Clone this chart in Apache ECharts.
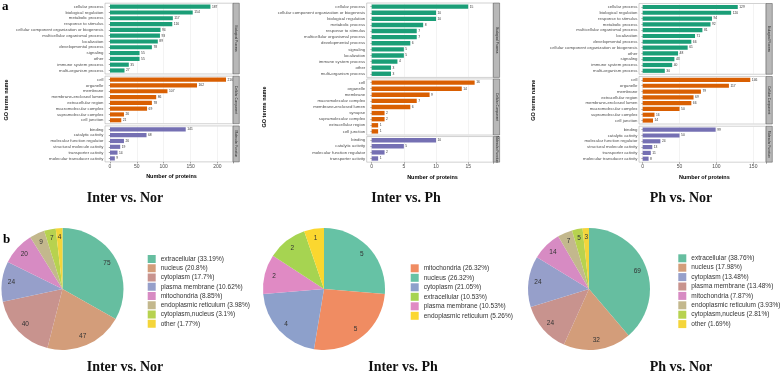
<!DOCTYPE html>
<html>
<head>
<meta charset="utf-8">
<script src="https://cdn.jsdelivr.net/npm/echarts@6/dist/echarts.min.js"></script>
<style>
html, body { margin: 0; padding: 0; background: #fff; }
#chart { width: 783px; height: 373px; }
</style>
</head>
<body>
<div id="chart"></div>
<script>
// --- GO term counts: Inter vs. Nor
var bpNames1 = ['cellular process', 'biological regulation', 'metabolic process', 'response to stimulus', 'cellular component organization or biogenesis', 'multicellular organismal process', 'localization', 'developmental process', 'signaling', 'other', 'immune system process', 'multi-organism process'];
var bpValues1 = [187, 154, 117, 116, 94, 93, 89, 78, 55, 55, 35, 27];
var ccNames1 = ['cell', 'organelle', 'membrane', 'membrane-enclosed lumen', 'extracellular region', 'macromolecular complex', 'supramolecular complex', 'cell junction'];
var ccValues1 = [216, 162, 107, 86, 78, 69, 26, 21];
var mfNames1 = ['binding', 'catalytic activity', 'molecular function regulator', 'structural molecule activity', 'transporter activity', 'molecular transducer activity'];
var mfValues1 = [141, 68, 26, 19, 14, 9];

// --- Inter vs. Ph
var bpNames2 = ['cellular process', 'cellular component organization or biogenesis', 'biological regulation', 'metabolic process', 'response to stimulus', 'multicellular organismal process', 'developmental process', 'signaling', 'localization', 'immune system process', 'other', 'multi-organism process'];
var bpValues2 = [15, 10, 10, 8, 7, 7, 6, 5, 5, 4, 3, 3];
var ccNames2 = ['cell', 'organelle', 'membrane', 'macromolecular complex', 'membrane-enclosed lumen', 'synapse', 'supramolecular complex', 'extracellular region', 'cell junction'];
var ccValues2 = [16, 14, 9, 7, 6, 2, 2, 1, 1];
var mfNames2 = ['binding', 'catalytic activity', 'molecular function regulator', 'transporter activity'];
var mfValues2 = [10, 5, 2, 1];

// --- Ph vs. Nor
var bpNames3 = ['cellular process', 'biological regulation', 'response to stimulus', 'metabolic process', 'multicellular organismal process', 'localization', 'developmental process', 'cellular component organization or biogenesis', 'other', 'signaling', 'immune system process', 'multi-organism process'];
var bpValues3 = [129, 120, 94, 92, 81, 71, 66, 61, 48, 43, 40, 30];
var ccNames3 = ['cell', 'organelle', 'membrane', 'extracellular region', 'membrane-enclosed lumen', 'macromolecular complex', 'supramolecular complex', 'cell junction'];
var ccValues3 = [146, 117, 79, 69, 66, 50, 16, 14];
var mfNames3 = ['binding', 'catalytic activity', 'molecular function regulator', 'structural molecule activity', 'transporter activity', 'molecular transducer activity'];
var mfValues3 = [99, 50, 24, 13, 11, 8];

// --- subcellular location pies (slice order clockwise from 12 o'clock)
var pieNames1 = ['extracellular', 'nucleus', 'cytoplasm', 'plasma membrane', 'mitochondria', 'endoplasmic reticulum', 'cytoplasm,nucleus', 'other'];
var pieValues1 = [75, 47, 40, 24, 20, 9, 7, 4];
var legendOrder1 = ['extracellular', 'nucleus', 'cytoplasm', 'plasma membrane', 'mitochondria', 'endoplasmic reticulum', 'cytoplasm,nucleus', 'other'];

var pieNames2 = ['nucleus', 'mitochondria', 'cytoplasm', 'plasma membrane', 'extracellular', 'endoplasmic reticulum'];
var pieValues2 = [5, 5, 4, 2, 2, 1];
var legendOrder2 = ['mitochondria', 'nucleus', 'cytoplasm', 'extracellular', 'plasma membrane', 'endoplasmic reticulum'];

var pieNames3 = ['extracellular', 'nucleus', 'plasma membrane', 'cytoplasm', 'mitochondria', 'endoplasmic reticulum', 'cytoplasm,nucleus', 'other'];
var pieValues3 = [69, 32, 24, 24, 14, 7, 5, 3];
var legendOrder3 = ['extracellular', 'nucleus', 'cytoplasm', 'plasma membrane', 'mitochondria', 'endoplasmic reticulum', 'cytoplasm,nucleus', 'other'];

var titles = ['Inter vs. Nor', 'Inter vs. Ph', 'Ph vs. Nor'];
var stripNames = ['Biological Process', 'Cellular Component', 'Molecular Function'];

// ---------------------------------------------------------------
var facetColors = ['#1b9e77', '#d95f02', '#7570b3'];
var paletteA = ['#66bea0', '#d39d7a', '#c8938e', '#969fca', '#d78bc3', '#c3b88d', '#b7d24f', '#f4d53a'];
var paletteB = ['#66c2a5', '#f08c62', '#8da0cb', '#e08ac4', '#a6d451', '#fbd72f'];
var SANS = 'Liberation Sans, Arial, sans-serif';
var SERIF = 'Liberation Serif, Times New Roman, serif';

var panels = [
  { data: [[bpNames1, bpValues1], [ccNames1, ccValues1], [mfNames1, mfValues1]],
    frameL: 105, x0: 110, xR: 233, max: 229, interval: 50, top: 3.2, u: 5.8, gap: 2.2, nameGap: 96, cx: 125 },
  { data: [[bpNames2, bpValues2], [ccNames2, ccValues2], [mfNames2, mfValues2]],
    frameL: 366.7, x0: 371.7, xR: 493.3, max: 18.9, interval: 5, top: 3.0, u: 6.1, gap: 1.5, nameGap: 99, cx: 406 },
  { data: [[bpNames3, bpValues3], [ccNames3, ccValues3], [mfNames3, mfValues3]],
    frameL: 639, x0: 642.7, xR: 766, max: 167.3, interval: 50, top: 3.5, u: 5.8, gap: 2.2, nameGap: 103, cx: 681 }
];

var grids = [], xAxes = [], yAxes = [], series = [], graphics = [], legends = [];

panels.forEach(function (p, pi) {
  var y = p.top;
  p.data.forEach(function (f, fi) {
    var names = f[0], vals = f[1];
    var h = (names.length + 0.2) * p.u;
    var idx = grids.length;
    var last = fi === 2;
    grids.push({ left: p.x0, width: p.xR - p.x0, top: y + 0.1 * p.u, height: names.length * p.u });
    xAxes.push({
      gridIndex: idx, type: 'value', min: 0, max: p.max, interval: p.interval,
      offset: last ? 0.1 * p.u : 0,
      axisLine: { show: false },
      axisTick: { show: last, length: 1.5, lineStyle: { color: '#333', width: 0.5 } },
      axisLabel: { show: last, fontSize: 5, color: '#4d4d4d', margin: 2,
        formatter: function (v) { return v % p.interval === 0 ? v : ''; } },
      splitLine: { show: true, lineStyle: { color: '#ebebeb', width: 0.6 } },
      name: last ? 'Number of proteins' : '', nameLocation: 'middle', nameGap: 12,
      nameTextStyle: { fontSize: 5.5, fontWeight: 'bold', color: '#000', fontFamily: SANS }
    });
    yAxes.push({
      gridIndex: idx, type: 'category', data: names, inverse: true,
      offset: p.x0 - p.frameL,
      axisLine: { show: false },
      axisTick: { show: true, length: 1.2, interval: 0, alignWithLabel: true, lineStyle: { color: '#333', width: 0.5 } },
      axisLabel: { fontSize: 4.3, color: '#4d4d4d', margin: 1.5, interval: 0, hideOverlap: false },
      splitLine: { show: false },
      name: fi === 1 ? 'GO terms name' : '', nameLocation: 'middle', nameGap: p.nameGap,
      nameTextStyle: { fontSize: 5.5, fontWeight: 'bold', color: '#000', fontFamily: SANS }
    });
    series.push({
      type: 'bar', xAxisIndex: idx, yAxisIndex: idx, data: vals, barWidth: '72%',
      itemStyle: { color: facetColors[fi] },
      label: { show: true, position: 'right', distance: 1.5, fontSize: 3.3, color: '#333' },
      silent: true
    });
    graphics.push({ type: 'rect', z: 10, shape: { x: p.frameL, y: y, width: p.xR - p.frameL, height: h },
      style: { fill: 'none', stroke: '#b3b3b3', lineWidth: 0.6 } });
    graphics.push({ type: 'rect', z: 10, shape: { x: p.xR, y: y, width: 6.3, height: h },
      style: { fill: '#b8b8b8', stroke: '#4d4d4d', lineWidth: 0.5 } });
    graphics.push({ type: 'text', z: 11, x: p.xR + 3.15, y: y + h / 2, rotation: -Math.PI / 2,
      style: { text: stripNames[fi], fontSize: 3.2, fill: '#1a1a1a', align: 'center', verticalAlign: 'middle', fontFamily: SANS } });
    y += h + p.gap;
  });
  graphics.push({ type: 'text', x: p.cx, y: 198, style: { text: titles[pi], fontSize: 14, fontWeight: 'bold',
    fill: '#111', align: 'center', verticalAlign: 'middle', fontFamily: SERIF } });
});

var pies = [
  { names: pieNames1, values: pieValues1, order: legendOrder1, colors: paletteA, cx: 62.5, lx: 147.7, ly: 255, gap: 1.25, tx: 125 },
  { names: pieNames2, values: pieValues2, order: legendOrder2, colors: paletteB, cx: 324, lx: 410.7, ly: 264.3, gap: 1.5, tx: 403 },
  { names: pieNames3, values: pieValues3, order: legendOrder3, colors: paletteA, cx: 589, lx: 678.3, ly: 254.3, gap: 1.4, tx: 681 }
];

pies.forEach(function (pp, i) {
  var total = pp.values.reduce(function (a, b) { return a + b; }, 0);
  var label = function (n) {
    var v = pp.values[pp.names.indexOf(n)];
    return n + ' (' + (+(v / total * 100).toFixed(2)) + '%)';
  };
  var data = pp.names.map(function (n, k) { return { name: label(n), value: pp.values[k] }; });
  series.push({
    type: 'pie', center: [pp.cx, 289], radius: 61, startAngle: 90, clockwise: true,
    color: pp.colors, data: data, silent: true,
    label: { show: false }, labelLine: { show: false }, itemStyle: { borderWidth: 0 }
  });
  series.push({
    type: 'pie', center: [pp.cx, 289], radius: [36, 61], startAngle: 90, clockwise: true,
    data: data, silent: true, z: 3,
    itemStyle: { color: 'rgba(0,0,0,0)', borderWidth: 0 },
    label: { show: true, position: 'inside', formatter: '{c}', fontSize: 6.5, color: '#333', fontFamily: SANS },
    labelLine: { show: false }
  });
  legends.push({
    data: pp.order.map(label), orient: 'vertical', left: pp.lx, top: pp.ly,
    itemWidth: 8, itemHeight: 8, itemGap: pp.gap, icon: 'rect', selectedMode: false, padding: 0,
    textStyle: { fontSize: 6.5, color: '#333', fontFamily: SANS, lineHeight: 8 }
  });
  graphics.push({ type: 'text', x: pp.tx, y: 367, style: { text: titles[i], fontSize: 14, fontWeight: 'bold',
    fill: '#111', align: 'center', verticalAlign: 'middle', fontFamily: SERIF } });
});

graphics.push({ type: 'text', x: 2, y: 0, style: { text: 'a', fontSize: 13, fontWeight: 'bold', fill: '#000', fontFamily: SERIF } });
graphics.push({ type: 'text', x: 3, y: 233, style: { text: 'b', fontSize: 13, fontWeight: 'bold', fill: '#000', fontFamily: SERIF } });

var chart = echarts.init(document.getElementById('chart'));
chart.setOption({
  animation: false,
  backgroundColor: '#fff',
  textStyle: { fontFamily: SANS },
  grid: grids,
  xAxis: xAxes,
  yAxis: yAxes,
  legend: legends,
  series: series,
  graphic: graphics
});
</script>
</body>
</html>
